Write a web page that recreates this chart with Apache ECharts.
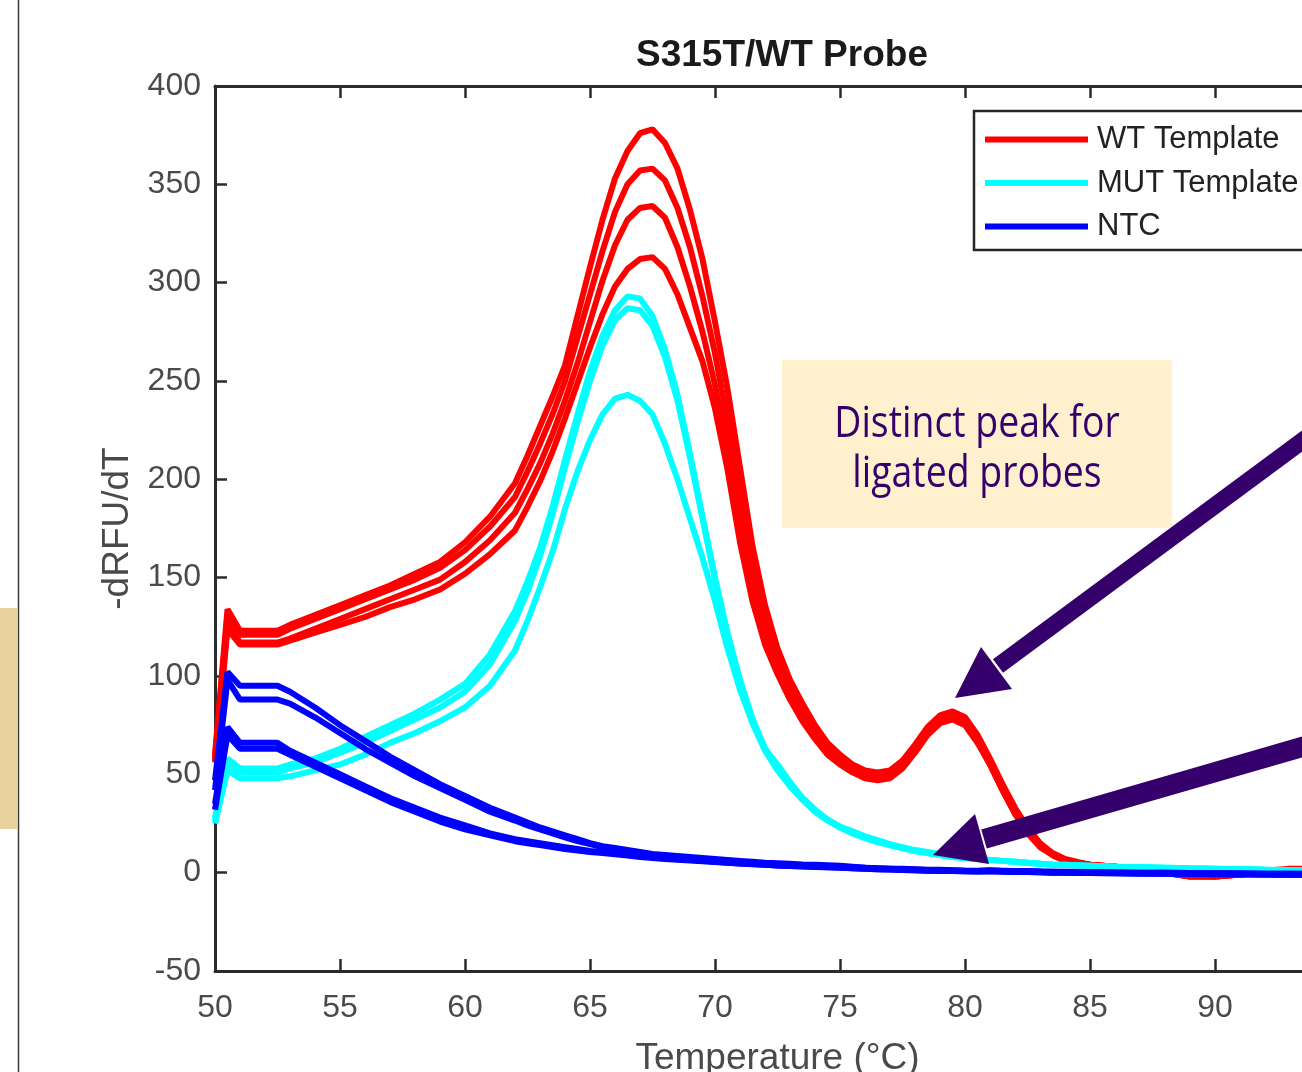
<!DOCTYPE html>
<html>
<head>
<meta charset="utf-8">
<script src="https://cdn.jsdelivr.net/npm/echarts@6/dist/echarts.min.js"></script>
<style>
  html, body { margin: 0; padding: 0; background: #fff; }
  #main { width: 1302px; height: 1072px; }
</style>
</head>
<body>
<div id="main"></div>
<script>
// temperature points (°C), shared by every curve
var temps = [50, 50.5, 51, 52.5, 53, 54, 55, 56, 57, 58, 59, 60, 61,
  62, 62.5, 63, 63.5, 64, 64.5, 65, 65.5, 66, 66.5, 67, 67.5,
  68, 68.5, 69, 69.5, 70, 70.5, 71, 71.5, 72, 72.5, 73, 73.5,
  74, 74.5, 75, 75.5, 76, 76.5, 77, 77.5, 78, 78.5, 79, 79.5,
  80, 80.5, 81, 81.5, 82, 82.5, 83, 83.5, 84,
  85, 86, 87, 88, 89, 90, 91, 92, 93, 94, 95];

// WT template replicates
var wt1 = [60, 134, 123, 123, 126, 131, 136, 141, 146, 152, 158, 168, 181,
  198, 212, 227, 242, 258, 283, 308, 332, 353, 367, 376, 378,
  371, 358, 337, 312, 280, 246, 206, 166, 136, 114, 98, 86,
  75, 66, 60, 55, 52, 51, 52, 57, 65, 74, 80, 82,
  79, 70, 58, 45, 33, 23, 15, 10, 7,
  4, 3, 2, 0, -2, -2, -1, 1, 2, 2, 2];
var wt2 = [58, 131, 121, 121, 124, 129, 134, 139, 144, 149, 155, 164, 176,
  191, 204, 218, 233, 250, 272, 294, 316, 336, 350, 357, 358,
  352, 338, 318, 293, 264, 230, 192, 156, 129, 109, 94, 82,
  72, 64, 58, 53, 50, 49, 50, 55, 63, 72, 78, 80,
  77, 68, 56, 43, 31, 21, 14, 9, 6,
  4, 3, 2, 0, -2, -2, -1, 0, 1, 2, 2];
var wt3 = [57, 127, 117, 117, 119, 124, 129, 134, 139, 144, 149, 158, 169,
  183, 195, 208, 223, 240, 259, 280, 301, 319, 332, 338, 339,
  333, 318, 298, 275, 248, 216, 180, 147, 122, 104, 90, 79,
  70, 62, 56, 52, 49, 48, 49, 54, 62, 71, 77, 79,
  76, 67, 55, 42, 30, 21, 14, 9, 6,
  4, 3, 2, 0, -1, -2, -1, 0, 1, 1, 1];
var wt4 = [56, 124, 116, 116, 118, 122, 126, 130, 135, 139, 144, 152, 162,
  174, 186, 199, 214, 231, 249, 267, 284, 298, 307, 312, 313,
  307, 294, 277, 260, 236, 205, 168, 138, 116, 101, 88, 77,
  68, 60, 55, 51, 48, 47, 48, 53, 61, 70, 76, 78,
  75, 66, 55, 42, 30, 20, 13, 9, 6,
  4, 3, 2, 0, -2, -2, -1, 0, 1, 1, 1];

// MUT template replicates
var mut1 = [28, 58, 53, 53, 55, 58, 63, 69, 75, 81, 88, 96, 111,
  133, 148, 165, 186, 210, 233, 255, 273, 286, 293, 292, 283,
  266, 243, 213, 181, 150, 122, 98, 78, 63, 55, 46, 38,
  32, 27, 23.5, 21, 18.5, 16.5, 14.5, 13, 11.5, 10.5, 9.5, 8.5,
  7.5, 7, 6.5, 6, 5.5, 5, 4.5, 4.2, 4,
  3.5, 3, 2.8, 2.5, 2.2, 2, 1.8, 1.5, 1.3, 1.2, 1];
var mut2 = [27, 56, 51, 51, 53, 56, 61, 66, 72, 78, 84, 92, 106,
  128, 143, 161, 182, 206, 229, 250, 268, 281, 287, 286, 278,
  262, 240, 211, 180, 149, 121, 97, 78, 63, 54, 45, 38,
  32, 27, 23, 20.5, 18, 16, 14, 12.5, 11, 10, 9, 8,
  7.5, 7, 6.5, 6, 5.5, 5, 4.5, 4, 4,
  3.5, 3, 2.8, 2.5, 2.2, 2, 1.8, 1.5, 1.3, 1.2, 1];
var mut3 = [25, 52, 48, 48, 49, 52, 55, 60, 66, 71, 77, 84, 95,
  113, 128, 145, 163, 185, 204, 220, 233, 241, 243, 240, 233,
  218, 200, 180, 160, 138, 114, 93, 76, 62, 52, 44, 37,
  31, 26.5, 23, 20, 17.5, 15.5, 14, 12.5, 11, 10, 9, 8,
  7.5, 7, 6.5, 6, 5.5, 5, 4.5, 4, 3.8,
  3.4, 3, 2.7, 2.4, 2.1, 1.9, 1.7, 1.5, 1.3, 1.1, 1];

// no template controls
var ntc1 = [47, 102, 95, 95, 92, 84, 75, 67, 59, 52, 45, 39, 33,
  28, 25.5, 23, 21, 19, 17, 15, 13.5, 12.5, 11.5, 10.5, 9.5,
  9, 8.5, 8, 7.5, 7, 6.5, 6, 5.5, 5, 4.8, 4.5, 4.2,
  4, 3.8, 3.5, 3, 2.5, 2.3, 2, 2, 1.8, 1.5, 1.5, 1.2,
  1, 1, 1.2, 1, 0.8, 0.8, 0.6, 0.5, 0.5,
  0.3, 0.2, 0, 0, -0.2, -0.3, -0.3, -0.5, -0.5, -0.6, -0.6];
var ntc2 = [42, 98, 88, 88, 86, 79, 71, 63, 56, 49, 43, 37, 31,
  26.5, 24, 22, 20, 18, 16, 14.5, 13, 12, 11, 10, 9,
  8.5, 8, 7.5, 7, 6.5, 6, 5.5, 5, 4.7, 4.4, 4.1, 3.8,
  3.6, 3.4, 3.1, 2.8, 2.5, 2.2, 2, 1.8, 1.6, 1.4, 1.3, 1.2,
  1, 0.9, 1.1, 0.9, 0.8, 0.7, 0.6, 0.5, 0.4,
  0.3, 0.1, 0, -0.1, -0.2, -0.3, -0.4, -0.5, -0.5, -0.6, -0.6];
var ntc3 = [35, 74, 66, 66, 62, 56, 50, 44, 38, 33, 28, 24, 20,
  17, 16, 15, 14, 13, 12, 11, 10.5, 10, 9, 8.5, 8,
  7.5, 7, 6.5, 6, 5.5, 5, 4.7, 4.4, 4, 3.7, 3.4, 3.2,
  3, 2.8, 2.6, 2.3, 2, 1.8, 1.6, 1.4, 1.2, 1, 0.9, 0.8,
  0.7, 0.6, 0.8, 0.6, 0.4, 0.3, 0.2, 0, 0,
  -0.2, -0.3, -0.5, -0.6, -0.7, -0.8, -0.9, -1, -1, -1.1, -1.1];
var ntc4 = [32, 70, 63, 63, 60, 54, 48, 42, 36, 31, 26, 22, 19,
  16, 15, 14, 13, 12, 11.2, 10.5, 10, 9.3, 8.7, 8, 7.5,
  7, 6.6, 6.2, 5.8, 5.4, 5, 4.6, 4.3, 4, 3.7, 3.4, 3.1,
  2.9, 2.7, 2.5, 2.2, 2, 1.8, 1.6, 1.4, 1.2, 1, 0.9, 0.8,
  0.7, 0.6, 0.7, 0.5, 0.4, 0.3, 0.2, 0, 0,
  -0.2, -0.3, -0.4, -0.5, -0.6, -0.7, -0.8, -0.9, -1, -1, -1];

var groups = [
  { name: 'WT Template', color: '#ff0000', curves: [wt1, wt2, wt3, wt4] },
  { name: 'MUT Template', color: '#00ffff', curves: [mut1, mut2, mut3] },
  { name: 'NTC', color: '#0000ff', curves: [ntc1, ntc2, ntc3, ntc4] }
];

var axisColor = '#2b2b2b';
var labelColor = '#4a4a4a';
var purple = '#35006b';

function pairs(vals) {
  var out = [];
  for (var i = 0; i < temps.length; i++) {
    out.push([temps[i], vals[i]]);
  }
  return out;
}

var series = [];
groups.forEach(function (g) {
  g.curves.forEach(function (c) {
    series.push({
      name: g.name,
      type: 'line',
      data: pairs(c),
      showSymbol: false,
      symbol: 'none',
      color: g.color,
      lineStyle: { color: g.color, width: 6 },
      emphasis: { disabled: true },
      z: 2
    });
  });
});

var chart = echarts.init(document.getElementById('main'));
chart.setOption({
  animation: false,
  backgroundColor: '#fff',
  title: {
    text: 'S315T/WT Probe',
    left: 777,
    top: 32,
    textAlign: 'center',
    textStyle: { fontFamily: 'Liberation Sans', fontWeight: 'bold', fontSize: 37, color: '#1a1a1a' }
  },
  grid: { left: 215, top: 86, width: 1125, height: 885, show: false, containLabel: false, outerBoundsMode: 'none' },
  legend: {
    data: ['WT Template', 'MUT Template', 'NTC'],
    orient: 'vertical',
    left: 985,
    top: 124,
    padding: 0,
    itemWidth: 103,
    itemHeight: 6,
    itemGap: 12.5,
    icon: 'rect',
    selectedMode: false,
    z: 5,
    textStyle: { fontFamily: 'Liberation Sans', fontSize: 31, color: '#222', lineHeight: 31, padding: [0, 0, 0, 4] }
  },
  xAxis: [{
    type: 'value',
    min: 50, max: 95, interval: 5,
    position: 'bottom',
    name: 'Temperature (°C)',
    nameLocation: 'middle',
    nameGap: 69,
    nameTextStyle: { fontFamily: 'Liberation Sans', fontSize: 37, color: labelColor },
    axisLine: { onZero: false, lineStyle: { color: axisColor, width: 3 } },
    axisTick: { inside: true, length: 12, lineStyle: { color: axisColor, width: 2.5 } },
    axisLabel: { margin: 21, fontFamily: 'Liberation Sans', fontSize: 32, color: labelColor },
    splitLine: { show: false }
  }, {
    type: 'value',
    min: 50, max: 95, interval: 5,
    position: 'top',
    axisLine: { onZero: false, lineStyle: { color: axisColor, width: 3 } },
    axisTick: { inside: true, length: 12, lineStyle: { color: axisColor, width: 2.5 } },
    axisLabel: { show: false },
    splitLine: { show: false }
  }],
  yAxis: {
    type: 'value',
    min: -50, max: 400, interval: 50,
    name: '-dRFU/dT',
    nameLocation: 'middle',
    nameRotate: 90,
    nameGap: 77,
    nameTextStyle: { fontFamily: 'Liberation Sans', fontSize: 37, color: labelColor },
    axisLine: { show: true, onZero: false, lineStyle: { color: axisColor, width: 3 } },
    axisTick: { show: true, inside: true, length: 12, lineStyle: { color: axisColor, width: 2.5 } },
    axisLabel: { margin: 14, fontFamily: 'Liberation Sans', fontSize: 32, color: labelColor },
    splitLine: { show: false }
  },
  series: series,
  graphic: [
    { type: 'rect', shape: { x: 0, y: 608, width: 17, height: 221 }, style: { fill: '#e8d3a0' }, z: 1 },
    { type: 'line', shape: { x1: 18.5, y1: 0, x2: 18.5, y2: 1072 }, style: { stroke: '#3a3a3a', lineWidth: 1.5 }, z: 1 },
    { type: 'rect', shape: { x: 974, y: 111, width: 420, height: 139 }, style: { fill: '#fff', stroke: '#262626', lineWidth: 2.5 }, z: 3 },
    { type: 'rect', shape: { x: 782, y: 360, width: 390, height: 168 }, style: { fill: '#fff1ce' }, z: 10 },
    {
      type: 'text', x: 977, y: 449, scaleX: 0.85, z: 11,
      style: {
        text: 'Distinct peak for\nligated probes',
        fill: purple,
        font: '44px "Open Sans"',
        align: 'center',
        verticalAlign: 'middle',
        lineHeight: 50
      }
    },
    // arrows
    { type: 'polyline', shape: { points: [[998, 666], [1340, 413]] }, style: { stroke: purple, lineWidth: 17 }, z: 10 },
    { type: 'polygon', shape: { points: [[955, 698], [981, 647], [1012, 689]] }, style: { fill: purple }, z: 10 },
    { type: 'polyline', shape: { points: [[984, 839], [1340, 736]] }, style: { stroke: purple, lineWidth: 20 }, z: 10 },
    { type: 'polygon', shape: { points: [[933, 855], [975, 814], [989, 864]] }, style: { fill: purple }, z: 10 }
  ]
});
</script>
</body>
</html>
